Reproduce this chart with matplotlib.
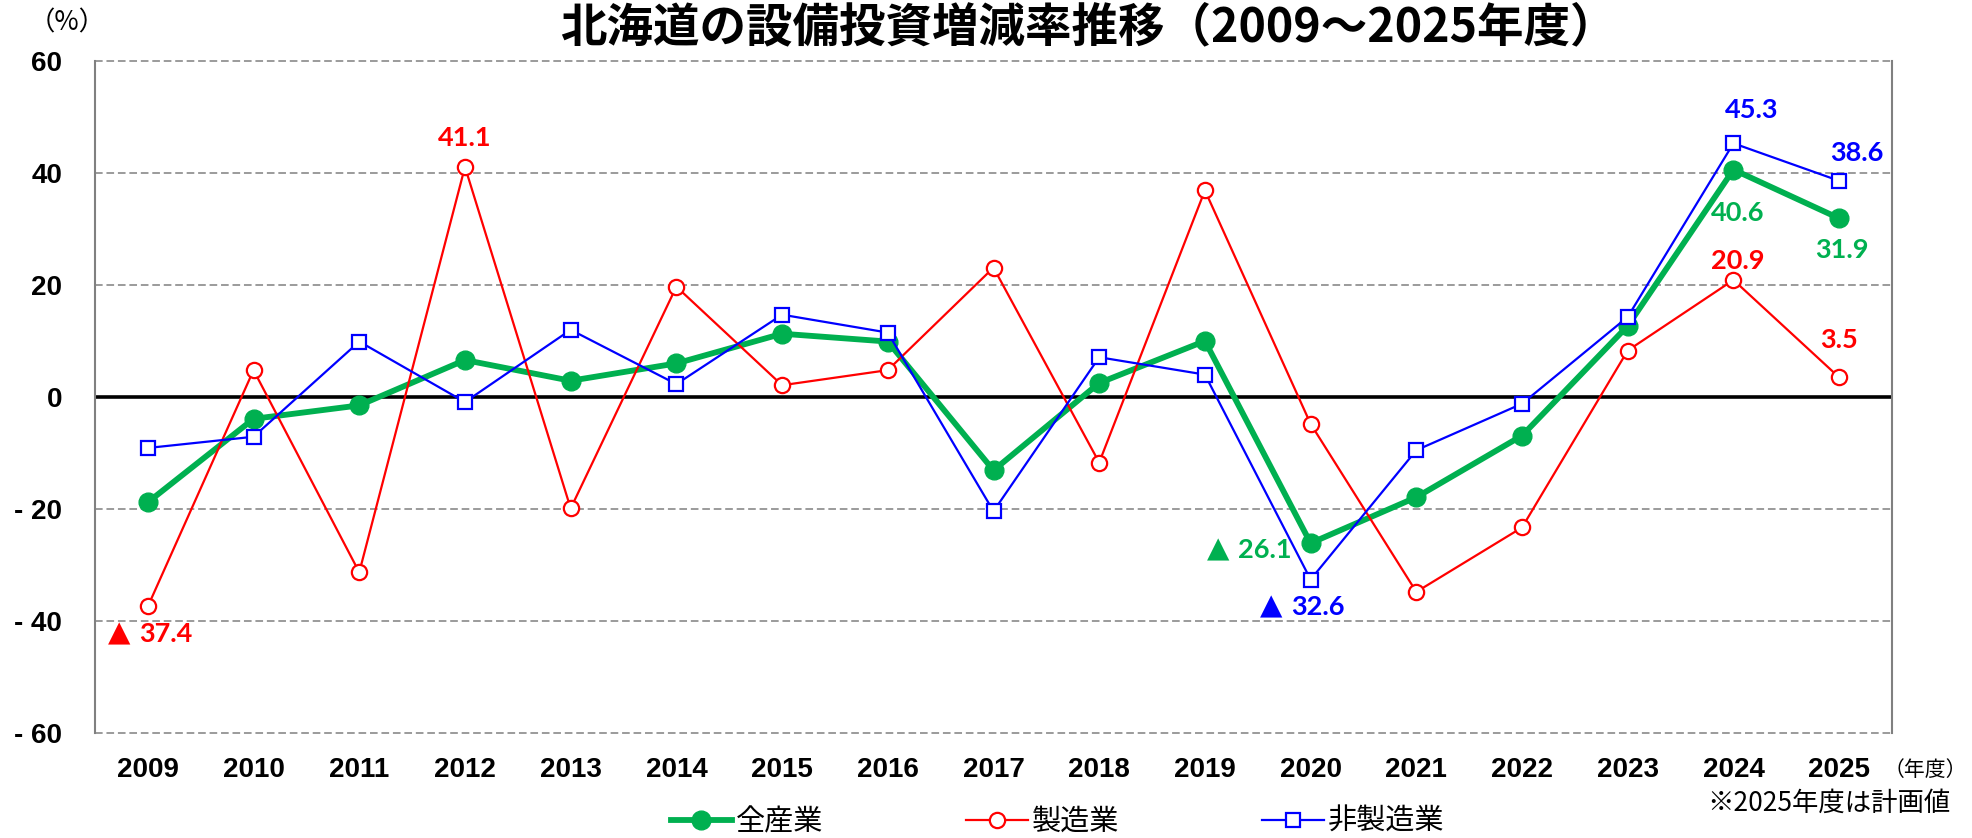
import numpy as np
import matplotlib
matplotlib.use("Agg")
import matplotlib.pyplot as plt
from matplotlib.font_manager import FontProperties

# ---------------- data ----------------
years = ["2009", "2010", "2011", "2012", "2013", "2014", "2015", "2016", "2017",
         "2018", "2019", "2020", "2021", "2022", "2023", "2024", "2025"]
all_industry = [-18.8, -3.9, -1.5, 6.6, 2.9, 6.0, 11.3, 9.9, -13.1,
                2.5, 10.0, -26.1, -17.9, -6.9, 12.7, 40.6, 31.9]
manufacturing = [-37.4, 4.8, -31.3, 41.1, -19.9, 19.7, 2.1, 4.8, 23.1,
                 -11.7, 36.9, -4.8, -34.8, -23.3, 8.3, 20.9, 3.5]
non_manufacturing = [-9.1, -7.1, 9.9, -0.9, 12.0, 2.3, 14.7, 11.5, -20.4,
                     7.1, 4.0, -32.6, -9.5, -1.2, 14.3, 45.3, 38.6]
series_names = ["全産業", "製造業", "非製造業"]
y_ticks = [60, 40, 20, 0, -20, -40, -60]

title = "北海道の設備投資増減率推移（2009～2025年度）"
unit_label = "（%）"
x_unit_label = "（年度）"
note = "※2025年度は計画値"

GREEN = "#00B050"
RED = "#FF0000"
BLUE = "#0000FF"
GRID = "#808080"

# ---------------- figure ----------------
W, H = 1972, 838
fig = plt.figure(figsize=(W / 100, H / 100), dpi=100)
L, R, T, B = 95, 1892, 61, 733
ax = fig.add_axes([L / W, 1 - B / H, (R - L) / W, (B - T) / H])

x = np.arange(len(years))
ax.set_xlim(-0.5, len(years) - 0.5)
ax.set_ylim(-60, 60)

# grid
for v in y_ticks:
    ax.axhline(v, color=GRID, lw=1.1, ls=(0, (5, 2.5)), zorder=1, clip_on=False)
ax.axhline(0, color="black", lw=2.6, zorder=2)

for s in ["top", "bottom"]:
    ax.spines[s].set_visible(False)
for s in ["left", "right"]:
    ax.spines[s].set_color(GRID)
    ax.spines[s].set_linewidth(1.5)

tick_font = dict(family="Liberation Sans", weight="bold", size=20)
ax.set_yticks(y_ticks)
ax.set_yticklabels([f"{v}" if v >= 0 else f"- {abs(v)}" for v in y_ticks], **tick_font)
ax.set_xticks(x)
ax.set_xticklabels(years, **tick_font)
ax.tick_params(axis="y", length=0, pad=23.5)
ax.tick_params(axis="x", length=0, pad=17)

# lines
l_all, = ax.plot(x, all_industry, color=GREEN, lw=4.2, marker="o", ms=13.5,
                 zorder=4, label=series_names[0], solid_joinstyle="round")
l_mfg, = ax.plot(x, manufacturing, color=RED, lw=1.6, marker="o", ms=11,
                 mfc="white", mec=RED, mew=1.6, zorder=5, label=series_names[1])
l_non, = ax.plot(x, non_manufacturing, color=BLUE, lw=1.6, marker="s", ms=9.5,
                 mfc="white", mec=BLUE, mew=1.6, zorder=6, label=series_names[2])

num_font = dict(fontsize=19.5, fontweight="bold", family=["Lato", "DejaVu Sans"])

# positive data labels: (series values, color, index, dx pt, dy pt)
pos_specs = [
    (manufacturing, RED, 3, 0, 21),
    (manufacturing, RED, 15, 3, 14),
    (manufacturing, RED, 16, 0, 27),
    (non_manufacturing, BLUE, 15, 13, 24),
    (non_manufacturing, BLUE, 16, 13, 20),
    (all_industry, GREEN, 15, 3, -31),
    (all_industry, GREEN, 16, 2, -23),
]
for vals, col, i, dx, dy in pos_specs:
    ax.annotate(f"{vals[i]:.1f}", (x[i], vals[i]), xytext=(dx, dy),
                textcoords="offset points", ha="center", va="center",
                color=col, zorder=7, **num_font)

# negative data labels shown as "▲ value": (series, color, index, dx of number start, dy)
neg_specs = [
    (manufacturing, RED, 0, -6, -20),
    (non_manufacturing, BLUE, 11, -13.7, -20),
    (all_industry, GREEN, 11, -52, -5),
]
for vals, col, i, dx, dy in neg_specs:
    v = vals[i]
    ax.annotate(f"{abs(v):.1f}", (x[i], v), xytext=(dx, dy),
                textcoords="offset points", ha="left", va="center",
                color=col, zorder=7, **num_font)
    ax.annotate("▲", (x[i], v), xytext=(dx - 6.5, dy + 0.5),
                textcoords="offset points", ha="right", va="center",
                color=col, zorder=7, fontsize=21, family="DejaVu Sans")

# texts
fig.text(1088 / W, 1 - 41 / H, title, ha="center", va="baseline",
         family="Noto Sans CJK JP", fontweight="bold", fontsize=33.5)
fig.text(67 / W, 1 - 23 / H, unit_label, ha="center", va="center",
         family="Noto Sans CJK JP", fontsize=19)
fig.text(1967 / W, 1 - 770 / H, x_unit_label, ha="right", va="center",
         family="Noto Sans CJK JP", fontsize=15)
fig.text(1707 / W, 1 - 803 / H, note, ha="left", va="center",
         family="Noto Sans CJK JP", fontsize=19)

fig.legend(handles=[l_all, l_mfg, l_non], labels=series_names, loc="center",
           bbox_to_anchor=(1057.5 / W, 1 - 822 / H), ncol=3, frameon=False,
           prop=FontProperties(family="Noto Sans CJK JP", size=21),
           handlelength=2.1, handletextpad=0.15, columnspacing=4.9,
           borderpad=0, borderaxespad=0)

fig.savefig("out.png", dpi=100)
